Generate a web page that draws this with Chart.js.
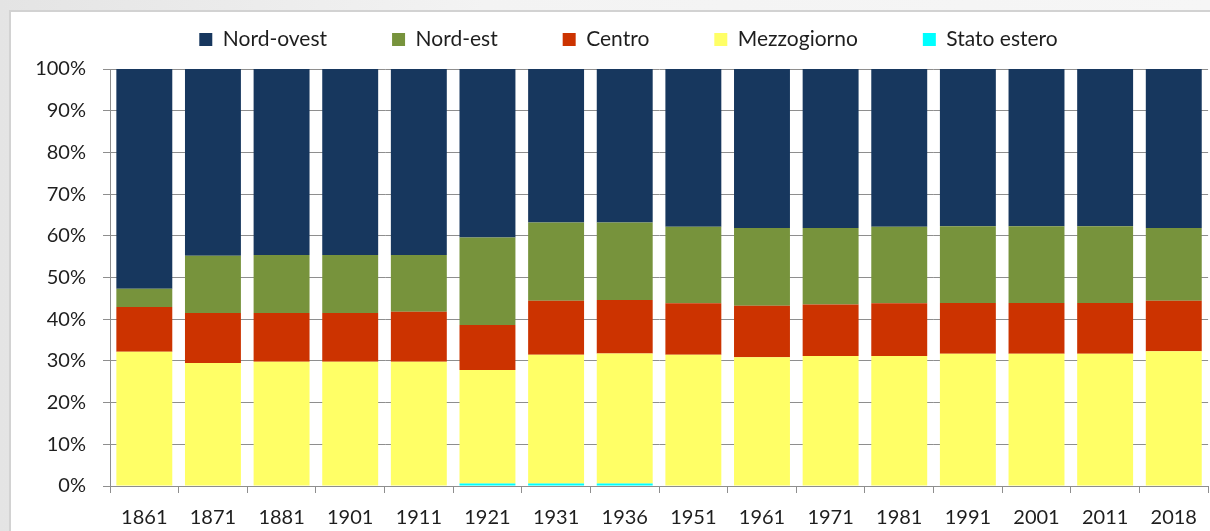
<!DOCTYPE html>
<html>
<head>
<meta charset="utf-8">
<script src="https://cdn.jsdelivr.net/npm/chart.js@4/dist/chart.umd.min.js"></script>
<style>
    html, body { margin: 0; padding: 0; }
    body {
        width: 1210px;
        height: 531px;
        overflow: hidden;
        position: relative;
        background: linear-gradient(90deg, #e4e4e4 0%, #f3f3f3 40%, #f6f6f6 100%);
    }
    #frame {
        position: absolute;
        left: 9px;
        top: 10px;
        width: 1300px;
        height: 600px;
        background: #ffffff;
        border: 2px solid #d2d2d2;
    }
    #myChart { position: absolute; left: 0; top: 0; }
</style>
</head>
<body>
<div id="frame"></div>
<canvas id="myChart" width="1210" height="531"></canvas>
<script>
const years = ['1861', '1871', '1881', '1901', '1911', '1921', '1931', '1936', '1951', '1961', '1971', '1981', '1991', '2001', '2011', '2018'];
const statoEstero = [0, 0, 0, 0, 0, 0.6, 0.6, 0.6, 0, 0, 0, 0, 0, 0, 0, 0];
const mezzogiorno = [32.2, 29.5, 29.8, 29.8, 29.8, 27.2, 30.9, 31.2, 31.5, 30.9, 31.2, 31.2, 31.7, 31.7, 31.7, 32.3];
const centro = [10.7, 12.0, 11.7, 11.7, 12.0, 10.8, 12.9, 12.8, 12.3, 12.3, 12.3, 12.6, 12.2, 12.2, 12.2, 12.1];
const nordEst = [4.4, 13.7, 13.9, 13.9, 13.6, 21.0, 18.8, 18.6, 18.4, 18.7, 18.4, 18.4, 18.4, 18.4, 18.4, 17.5];
const nordOvest = [52.7, 44.8, 44.6, 44.6, 44.6, 40.4, 36.8, 36.8, 37.8, 38.1, 38.1, 37.8, 37.7, 37.7, 37.7, 38.1];
const yTicks = [0, 10, 20, 30, 40, 50, 60, 70, 80, 90, 100];

const gridColor = '#8e8e8e';
const textColor = '#1e1e1e';

document.addEventListener('DOMContentLoaded', function () {
    const ctx = document.getElementById('myChart').getContext('2d');

    function ds(label, data, color) {
        return {
            label: label,
            data: data,
            backgroundColor: color,
            borderWidth: 0,
            barPercentage: 0.815,
            categoryPercentage: 1
        };
    }

    new Chart(ctx, {
        type: 'bar',
        data: {
            labels: years,
            // bottom of the stack first, legend is reversed
            datasets: [
                ds('Stato estero', statoEstero, '#00ffff'),
                ds('Mezzogiorno', mezzogiorno, '#ffff66'),
                ds('Centro', centro, '#cc3300'),
                ds('Nord-est', nordEst, '#77933c'),
                ds('Nord-ovest', nordOvest, '#17375e')
            ]
        },
        options: {
            responsive: false,
            animation: false,
            layout: { padding: { top: 0, left: 0, right: 1, bottom: 0 } },
            scales: {
                x: {
                    stacked: true,
                    afterFit: function (scale) {
                        scale.height = 45;
                    },
                    grid: {
                        offset: true,
                        drawOnChartArea: false,
                        drawTicks: true,
                        tickLength: 7,
                        color: gridColor
                    },
                    border: { display: true, color: gridColor, width: 1 },
                    ticks: {
                        color: textColor,
                        font: { family: 'Lato', size: 20 },
                        padding: 13,
                        maxRotation: 0,
                        autoSkip: false
                    }
                },
                y: {
                    stacked: true,
                    min: 0,
                    max: 100,
                    afterBuildTicks: function (scale) {
                        scale.ticks = yTicks.map(function (v) { return { value: v }; });
                    },
                    afterFit: function (scale) {
                        scale.width = 110;
                    },
                    grid: {
                        color: gridColor,
                        drawTicks: true,
                        tickLength: 7
                    },
                    border: { display: true, color: gridColor, width: 1 },
                    ticks: {
                        color: textColor,
                        font: { family: 'Lato', size: 20 },
                        padding: 17,
                        callback: function (v) { return v + '%'; }
                    }
                }
            },
            plugins: {
                tooltip: { enabled: false },
                legend: {
                    position: 'top',
                    reverse: true,
                    labels: {
                        boxWidth: 13,
                        boxHeight: 13,
                        padding: 65,
                        color: textColor,
                        font: { family: 'Lato', size: 21 }
                    }
                }
            }
        },
        plugins: [{
            id: 'legendPlace',
            beforeInit: function (chart) {
                const fit = chart.legend.fit;
                chart.legend.fit = function () {
                    fit.call(this);
                    this.height = 69;
                };
            },
            afterLayout: function (chart) {
                const lg = chart.legend;
                lg.top = -36;
                lg.bottom = 66;
                lg.left += 24;
                lg.right += 24;
            }
        }]
    });
});
</script>
</body>
</html>
